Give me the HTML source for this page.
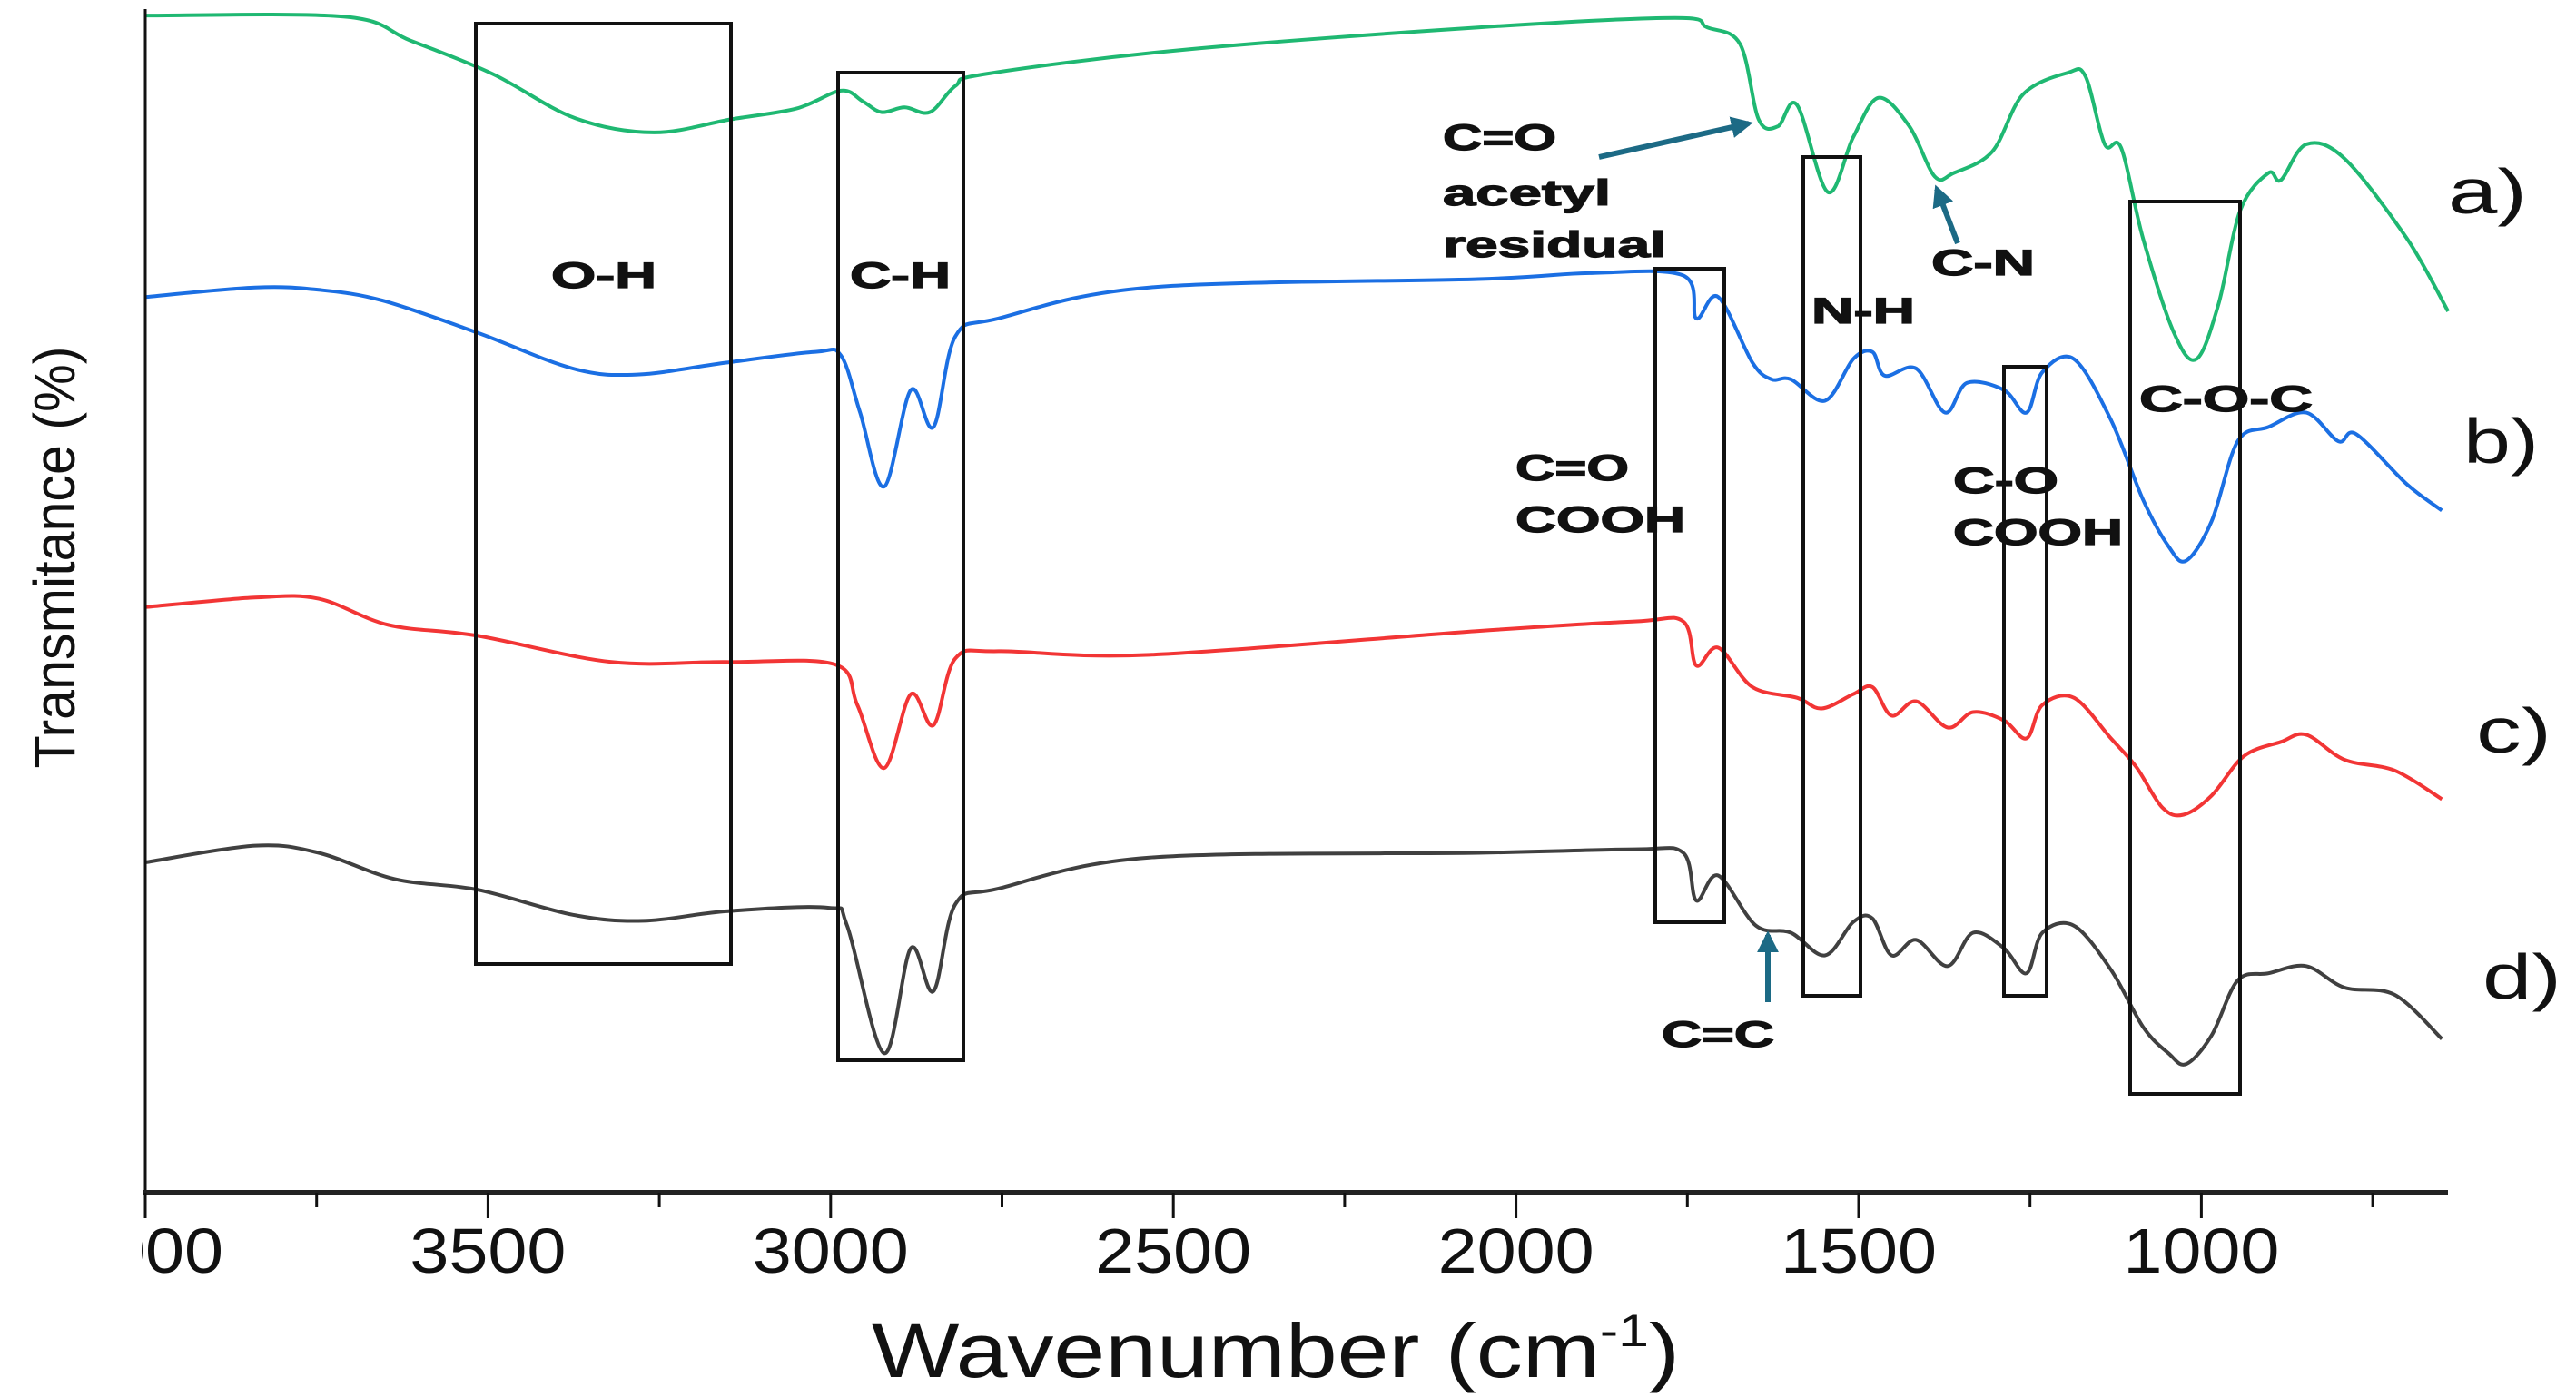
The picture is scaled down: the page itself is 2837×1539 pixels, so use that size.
<!DOCTYPE html>
<html><head><meta charset="utf-8"><style>
html,body{margin:0;padding:0;background:#fff;}
svg{display:block;}
.ann{font-family:"Liberation Sans",sans-serif;font-weight:bold;font-size:40px;fill:#111;stroke:#111;stroke-width:1.2;}
.tick{font-family:"Liberation Sans",sans-serif;font-size:70px;fill:#111;}
</style></head><body>
<svg id="chart" width="2837" height="1539" viewBox="0 0 2837 1539" xmlns="http://www.w3.org/2000/svg">
<defs>
<clipPath id="plotclip"><rect x="156" y="0" width="2700" height="1539"/></clipPath>
<marker id="arr" viewBox="0 0 10 10" refX="8" refY="5" markerWidth="4" markerHeight="4" orient="auto"><path d="M0,0 L10,5 L0,10 z" fill="#1c6a85"/></marker>
</defs>
<g id="series"></g>
<g id="axes"></g>
<g fill="none" stroke="#111" stroke-width="4">
<rect x="524" y="26" width="281" height="1036"/>
<rect x="923" y="80" width="138" height="1088"/>
<rect x="1823" y="296" width="76" height="720"/>
<rect x="1986" y="173" width="63" height="924"/>
<rect x="2207" y="404" width="47" height="693"/>
<rect x="2346" y="222" width="121" height="983"/>
</g>
<g stroke="#1c6a85" stroke-width="6" fill="none">
<line x1="1761" y1="173" x2="1926" y2="136" marker-end="url(#arr)"/>
<line x1="2156" y1="268" x2="2133" y2="208" marker-end="url(#arr)"/>
<line x1="1947" y1="1104" x2="1947" y2="1030" marker-end="url(#arr)"/>
</g>
<g>
<text class="ann" x="607" y="317" textLength="116" lengthAdjust="spacingAndGlyphs">O-H</text>
<text class="ann" x="936" y="317" textLength="111" lengthAdjust="spacingAndGlyphs">C-H</text>
<text class="ann" x="1589" y="165" textLength="125" lengthAdjust="spacingAndGlyphs">C=O</text>
<text class="ann" x="1589" y="226" textLength="185" lengthAdjust="spacingAndGlyphs">acetyl</text>
<text class="ann" x="1589" y="283" textLength="246" lengthAdjust="spacingAndGlyphs">residual</text>
<text class="ann" x="1995" y="356" textLength="114" lengthAdjust="spacingAndGlyphs">N-H</text>
<text class="ann" x="2127" y="303" textLength="114" lengthAdjust="spacingAndGlyphs">C-N</text>
<text class="ann" x="1669" y="529" textLength="125" lengthAdjust="spacingAndGlyphs">C=O</text>
<text class="ann" x="1669" y="586" textLength="187" lengthAdjust="spacingAndGlyphs">COOH</text>
<text class="ann" x="2151" y="543" textLength="116" lengthAdjust="spacingAndGlyphs">C-O</text>
<text class="ann" x="2151" y="600" textLength="187" lengthAdjust="spacingAndGlyphs">COOH</text>
<text class="ann" x="2356" y="453" textLength="191" lengthAdjust="spacingAndGlyphs">C-O-C</text>
<text class="ann" x="1830" y="1153" textLength="124" lengthAdjust="spacingAndGlyphs">C=C</text>
<text class="tick" x="2696" y="235" font-size="62" textLength="87" lengthAdjust="spacingAndGlyphs">a)</text>
<text class="tick" x="2713" y="510" font-size="62" textLength="83" lengthAdjust="spacingAndGlyphs">b)</text>
<text class="tick" x="2727" y="829" font-size="62" textLength="83" lengthAdjust="spacingAndGlyphs">c)</text>
<text class="tick" x="2734" y="1100" font-size="62" textLength="87" lengthAdjust="spacingAndGlyphs">d)</text>
</g>
<text x="960" y="1517" font-family="Liberation Sans, sans-serif" font-size="84" fill="#111" textLength="890" lengthAdjust="spacingAndGlyphs">Wavenumber (cm<tspan font-size="50" dy="-34">-1</tspan><tspan dy="34">)</tspan></text>
<text transform="translate(82,614) rotate(-90)" text-anchor="middle" font-family="Liberation Sans, sans-serif" font-size="64" fill="#111" textLength="465" lengthAdjust="spacingAndGlyphs">Transmitance (%)</text>
</svg>
<script>
// x axis: wavenumber (cm-1), y axis: offset transmittance (arbitrary units 0-100)
const xTicksMajor = [4000, 3500, 3000, 2500, 2000, 1500, 1000];
const xTicksMinor = [3750, 3250, 2750, 2250, 1750, 1250, 750];
const xTickLabels = ["4000", "3500", "3000", "2500", "2000", "1500", "1000"];
const wnA = [4000,3709,3613,3493,3373,3258,3145,3050,2985,2953,2926,2892,2855,2818,2774,2490,2055,1768,1721,1673,1646,1618,1590,1545,1508,1471,1426,1389,1361,1305,1260,1195,1169,1141,1117,1085,1040,1007,975,943,902,884,847,791,700,640];
const tA = [98.7,98.6,96.6,93.8,90.1,88.9,90.0,90.9,92.4,91.5,90.6,91.0,90.6,92.8,93.8,95.8,97.7,98.5,97.7,96.3,90.0,89.4,91.2,83.9,88.5,91.8,89.4,85.2,85.5,87.3,92.1,93.9,93.6,87.9,87.6,80.0,72.1,69.9,74.5,82.4,85.5,84.9,87.9,86.7,80.0,73.9];
const wnB = [4000,3840,3747,3654,3515,3376,3282,3152,3022,2985,2957,2922,2883,2850,2818,2755,2535,2055,1893,1756,1737,1705,1655,1627,1599,1549,1508,1480,1462,1416,1374,1342,1288,1255,1232,1186,1132,1085,1048,1022,985,947,902,847,800,774,700,649];
const tB = [75.1,75.9,75.7,74.8,72.1,69.1,68.6,69.6,70.5,70.2,65.4,59.2,67.3,64.2,71.8,73.3,75.9,76.6,77.1,76.9,73.3,75.1,69.6,68.2,68.2,66.4,69.9,70.5,68.5,69.1,65.4,67.9,67.3,65.4,68.8,69.9,64.8,58.1,54.2,53.0,56.3,63.0,64.2,65.4,63.0,63.6,59.4,57.2];
const wnC = [4000,3840,3747,3645,3515,3320,3152,2994,2961,2922,2883,2850,2818,2755,2535,2055,1827,1756,1737,1705,1655,1590,1554,1508,1480,1452,1416,1370,1333,1288,1255,1232,1186,1132,1095,1057,1026,985,938,884,847,791,718,649];
const tC = [49.1,49.9,49.8,47.6,46.7,44.5,44.5,44.3,40.9,35.6,41.8,39.2,44.8,45.4,45.1,47.1,47.9,47.9,44.2,45.7,42.4,41.5,40.6,41.8,42.4,40.0,41.2,39.0,40.3,39.6,38.1,40.9,41.5,38.1,35.7,32.3,31.7,33.3,36.6,37.8,38.4,36.3,35.4,33.0];
const wnD = [4000,3840,3747,3636,3515,3376,3273,3152,3004,2976,2922,2883,2850,2818,2755,2535,2055,1827,1756,1737,1705,1650,1599,1549,1508,1480,1452,1416,1370,1333,1288,1255,1232,1186,1132,1085,1048,1022,985,947,902,847,791,718,649];
const tD = [27.7,29.1,28.5,26.3,25.4,23.3,22.8,23.6,23.9,22.4,11.7,20.5,16.9,24.2,25.5,28.1,28.5,28.8,28.5,24.5,26.6,22.4,21.8,19.9,22.7,23.0,19.9,21.2,19.0,21.8,20.5,18.4,21.8,22.4,18.7,13.9,11.7,10.8,13.2,17.8,18.4,19.0,17.2,16.6,12.9];
const seriesColors = ["#1fb872", "#1b6fe3", "#f23535", "#404040"];

const NS = "http://www.w3.org/2000/svg";
const X0 = 160, PX_PER_WN = 0.7548, Y0 = 1314, PX_PER_T = 13.14;
function xScale(w){ return X0 + (4000 - w) * PX_PER_WN; }
function yScale(t){ return Y0 - t * PX_PER_T; }
function smoothPath(pts){
  let d = "M" + pts[0][0].toFixed(1) + "," + pts[0][1].toFixed(1);
  for (let i = 0; i < pts.length - 1; i++){
    const p0 = pts[Math.max(0,i-1)], p1 = pts[i], p2 = pts[i+1], p3 = pts[Math.min(pts.length-1,i+2)];
    const c1x = p1[0] + (p2[0]-p0[0])/6, c1y = p1[1] + (p2[1]-p0[1])/6;
    const c2x = p2[0] - (p3[0]-p1[0])/6, c2y = p2[1] - (p3[1]-p1[1])/6;
    d += " C" + c1x.toFixed(1)+","+c1y.toFixed(1)+" "+c2x.toFixed(1)+","+c2y.toFixed(1)+" "+p2[0].toFixed(1)+","+p2[1].toFixed(1);
  }
  return d;
}
const sg = document.getElementById("series");
const allSeries = [[wnA,tA,"spectrum-a"],[wnB,tB,"spectrum-b"],[wnC,tC,"spectrum-c"],[wnD,tD,"spectrum-d"]];
allSeries.forEach(function(s, i){
  const pts = s[0].map(function(w, k){ return [xScale(w), yScale(s[1][k])]; });
  const p = document.createElementNS(NS, "path");
  p.setAttribute("d", smoothPath(pts));
  p.setAttribute("fill", "none");
  p.setAttribute("stroke", seriesColors[i]);
  p.setAttribute("stroke-width", "4");
  p.setAttribute("stroke-linejoin", "round");
  
  
  sg.appendChild(p);
});
const ag = document.getElementById("axes");
function mk(tag, attrs){ const e = document.createElementNS(NS, tag); for (const k in attrs) e.setAttribute(k, attrs[k]); ag.appendChild(e); return e; }
const yAxis = mk("line", {x1:160, y1:10, x2:160, y2:1316, stroke:"#111", "stroke-width":3});


const xAxis = mk("line", {x1:158, y1:1314, x2:2696, y2:1314, stroke:"#222", "stroke-width":6});


xTicksMajor.forEach(function(w, i){
  const x = xScale(w);
  const t = mk("line", {x1:x, y1:1314, x2:x, y2:1342, stroke:"#111", "stroke-width":3});
  
  
  const lb = mk("text", {x:x, y:1402, "text-anchor":"middle", "class":"tick", textLength:172, lengthAdjust:"spacingAndGlyphs", "clip-path":"url(#plotclip)"});
  lb.textContent = xTickLabels[i];
  
  
});
xTicksMinor.forEach(function(w){
  const x = xScale(w);
  const t = mk("line", {x1:x, y1:1314, x2:x, y2:1330, stroke:"#111", "stroke-width":3});
  
  
});
</script>
</body></html>
